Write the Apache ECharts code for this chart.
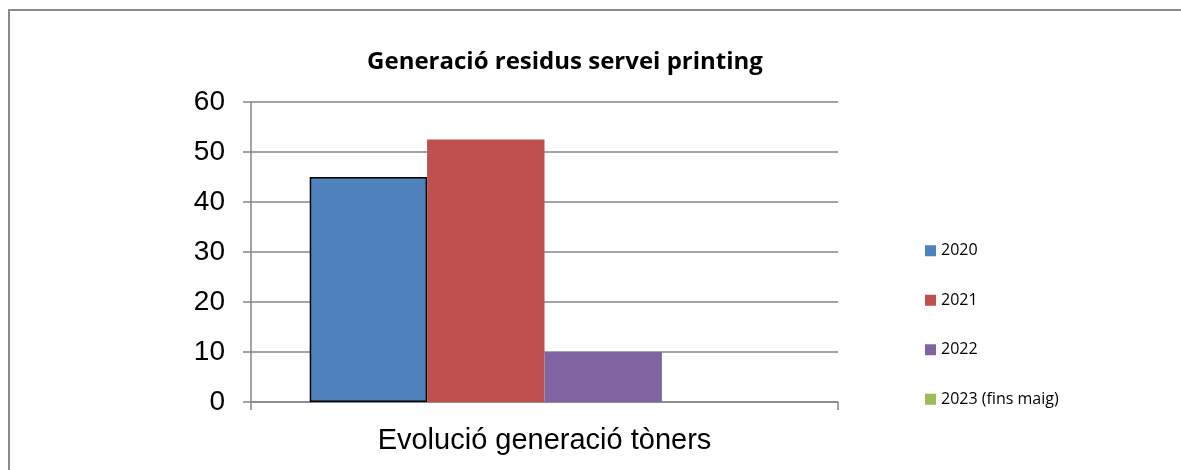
<!DOCTYPE html>
<html>
<head>
<meta charset="utf-8">
<script src="https://cdn.jsdelivr.net/npm/echarts@6/dist/echarts.min.js"></script>
<style>
  html, body { margin: 0; padding: 0; background: #fff; }
  #chart { width: 1181px; height: 470px; }
</style>
</head>
<body>
<div id="chart"></div>
<script>
const categories = ['Evolució generació tòners']
const seriesNames = ['2020', '2021', '2022', '2023 (fins maig)']
const seriesValues = [[45], [52.5], [10], [0]]
const seriesColors = ['#4F81BD', '#C0504D', '#8064A2', '#9BBB59']

const chart = echarts.init(document.getElementById('chart'), null, { renderer: 'canvas' })

const gridColor = '#868686'

chart.setOption({
  animation: false,
  title: {
    text: 'Generació residus servei printing',
    left: 560,
    textAlign: 'center',
    top: 45,
    textStyle: { fontFamily: 'Open Sans', fontWeight: 'bold', fontSize: 24, color: '#000' },
  },
  legend: {
    orient: 'vertical',
    left: 920,
    top: 237,
    itemWidth: 11,
    itemHeight: 11,
    itemGap: 32,
    icon: 'rect',
    itemStyle: { borderWidth: 0 },
    textStyle: { fontFamily: 'Open Sans', fontSize: 16, color: '#000', lineHeight: 17.5 },
    data: seriesNames,
  },
  grid: { left: 251, right: 343, top: 102, bottom: 68 },
  xAxis: {
    type: 'category',
    data: categories,
    axisLine: { lineStyle: { color: gridColor, width: 1.5 } },
    axisTick: { show: true, length: 8, lineStyle: { color: gridColor, width: 1.5 } },
    axisLabel: { fontFamily: 'Liberation Sans', fontSize: 29, color: '#000', margin: 24 },
  },
  yAxis: {
    type: 'value',
    min: 0,
    max: 60,
    interval: 10,
    axisLine: { show: true, lineStyle: { color: gridColor, width: 1.5 } },
    axisTick: { show: true, length: 8, lineStyle: { color: gridColor, width: 1.5 } },
    axisLabel: { fontFamily: 'Liberation Sans', fontSize: 28, color: '#000', margin: 26 },
    splitLine: { lineStyle: { color: gridColor, width: 1.5 } },
  },
  graphic: [
    {
      type: 'rect',
      shape: { x: 9, y: 10, width: 1300, height: 600 },
      style: { fill: 'none', stroke: '#8a8a8a', lineWidth: 2 },
      silent: true,
    },
  ],
  series: seriesNames.map((name, i) => ({
    name,
    type: 'bar',
    data: seriesValues[i],
    barGap: '0%',
    barCategoryGap: '20%',
    itemStyle: i === 0
      ? { color: seriesColors[i], borderColor: '#000', borderWidth: 1.5 }
      : { color: seriesColors[i] },
  })),
})
</script>
</body>
</html>
